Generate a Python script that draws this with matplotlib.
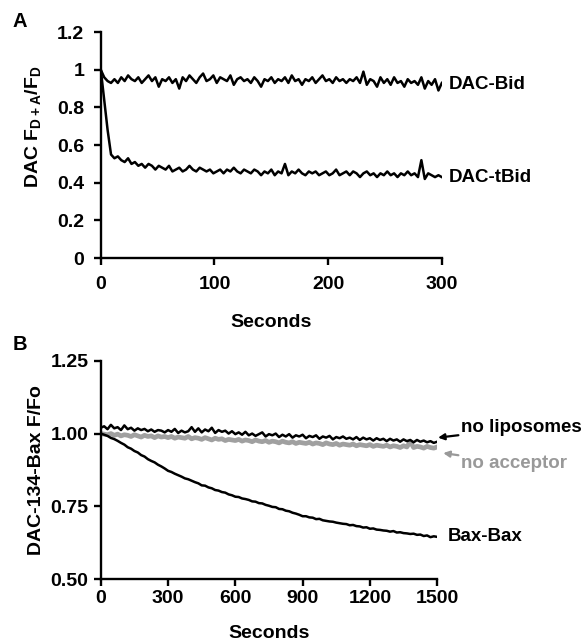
import numpy as np
import matplotlib
matplotlib.use("Agg")
import matplotlib.pyplot as plt

plt.rcParams['font.family'] = ['Liberation Sans', 'DejaVu Sans']
plt.rcParams['font.weight'] = 'bold'
plt.rcParams['mathtext.fontset'] = 'custom'
plt.rcParams['mathtext.rm'] = 'Liberation Sans:bold'
plt.rcParams['mathtext.bf'] = 'Liberation Sans:bold'
plt.rcParams['mathtext.default'] = 'bf'

# Panel A: DAC-Bid / DAC-tBid, one reading every 3 s from 0 to 300 s
bid = [1.00, 0.96, 0.94, 0.93, 0.95, 0.93, 0.96, 0.94, 0.97, 0.95, 0.94, 0.96, 0.93, 0.95, 0.97, 0.94,
       0.96, 0.91, 0.95, 0.94, 0.96, 0.93, 0.95, 0.90, 0.96, 0.94, 0.97, 0.95, 0.93, 0.96, 0.98, 0.94,
       0.95, 0.97, 0.93, 0.96, 0.95, 0.94, 0.97, 0.92, 0.95, 0.96, 0.94, 0.95, 0.93, 0.96, 0.94, 0.91,
       0.95, 0.94, 0.96, 0.93, 0.95, 0.94, 0.96, 0.93, 0.97, 0.94, 0.95, 0.92, 0.95, 0.94, 0.96, 0.93,
       0.95, 0.97, 0.94, 0.95, 0.93, 0.96, 0.94, 0.95, 0.93, 0.95, 0.94, 0.96, 0.93, 0.99, 0.92, 0.95,
       0.94, 0.91, 0.96, 0.93, 0.95, 0.92, 0.96, 0.93, 0.94, 0.91, 0.95, 0.93, 0.94, 0.92, 0.96, 0.90,
       0.94, 0.92, 0.95, 0.89, 0.93]
tbid = [1.00, 0.84, 0.68, 0.55, 0.53, 0.54, 0.52, 0.51, 0.53, 0.50, 0.51, 0.49, 0.50, 0.48, 0.50, 0.49,
        0.47, 0.49, 0.48, 0.47, 0.49, 0.46, 0.47, 0.48, 0.46, 0.47, 0.49, 0.47, 0.46, 0.48, 0.47, 0.46,
        0.47, 0.45, 0.46, 0.47, 0.45, 0.47, 0.46, 0.48, 0.46, 0.45, 0.47, 0.46, 0.45, 0.47, 0.46, 0.44,
        0.46, 0.45, 0.47, 0.44, 0.46, 0.45, 0.50, 0.44, 0.46, 0.45, 0.47, 0.45, 0.44, 0.46, 0.45, 0.46,
        0.44, 0.45, 0.46, 0.44, 0.45, 0.47, 0.44, 0.45, 0.46, 0.44, 0.46, 0.45, 0.43, 0.45, 0.46, 0.44,
        0.45, 0.43, 0.45, 0.44, 0.46, 0.44, 0.45, 0.43, 0.45, 0.44, 0.46, 0.44, 0.45, 0.43, 0.52, 0.42,
        0.45, 0.44, 0.43, 0.44, 0.43]

# Panel B: DAC-134-Bax, one reading every 15 s from 0 to 1500 s
bax_bax = [1.000, 0.996, 0.992, 0.985, 0.981, 0.975, 0.968, 0.962, 0.953, 0.948, 0.940, 0.935, 0.926,
           0.921, 0.912, 0.906, 0.901, 0.893, 0.887, 0.880, 0.872, 0.868, 0.862, 0.857, 0.852, 0.846,
           0.843, 0.838, 0.833, 0.829, 0.822, 0.821, 0.815, 0.812, 0.806, 0.804, 0.799, 0.797, 0.791,
           0.788, 0.783, 0.782, 0.777, 0.775, 0.772, 0.767, 0.766, 0.761, 0.760, 0.755, 0.752, 0.748,
           0.747, 0.741, 0.740, 0.735, 0.733, 0.728, 0.725, 0.721, 0.716, 0.716, 0.712, 0.711, 0.706,
           0.707, 0.702, 0.700, 0.698, 0.697, 0.694, 0.692, 0.690, 0.689, 0.685, 0.686, 0.682, 0.681,
           0.677, 0.678, 0.673, 0.674, 0.670, 0.669, 0.667, 0.666, 0.663, 0.665, 0.660, 0.661, 0.658,
           0.657, 0.655, 0.656, 0.652, 0.653, 0.648, 0.650, 0.644, 0.647, 0.645]
no_lipo = [1.020, 1.025, 1.015, 1.030, 1.018, 1.022, 1.012, 1.028, 1.015, 1.020, 1.010, 1.018, 1.012,
           1.016, 1.008, 1.014, 1.006, 1.012, 1.010, 1.004, 1.012, 1.006, 1.016, 1.002, 1.010, 1.004,
           1.008, 1.022, 1.006, 1.018, 1.004, 1.014, 1.008, 1.020, 1.002, 1.012, 1.006, 1.010, 1.000,
           1.008, 0.998, 1.004, 0.996, 1.006, 0.994, 1.000, 0.992, 0.998, 1.004, 0.990, 0.998, 0.994,
           1.000, 0.988, 0.996, 0.990, 0.998, 0.986, 0.994, 0.990, 0.996, 0.984, 0.992, 0.988, 0.994,
           0.982, 0.990, 0.986, 0.992, 0.980, 0.988, 0.984, 0.990, 0.982, 0.986, 0.980, 0.988, 0.978,
           0.986, 0.980, 0.984, 0.976, 0.984, 0.978, 0.982, 0.974, 0.982, 0.976, 0.980, 0.972, 0.980,
           0.974, 0.978, 0.970, 0.978, 0.972, 0.976, 0.970, 0.974, 0.968, 0.972]
no_acc = [1.000, 0.998, 0.996, 1.000, 0.994, 0.998, 0.992, 0.996, 0.994, 0.990, 0.996, 0.992, 0.988,
          0.994, 0.990, 0.992, 0.986, 0.992, 0.988, 0.990, 0.986, 0.990, 0.984, 0.988, 0.986, 0.984,
          0.990, 0.982, 0.986, 0.984, 0.980, 0.986, 0.982, 0.978, 0.984, 0.980, 0.982, 0.976, 0.980,
          0.978, 0.976, 0.980, 0.974, 0.978, 0.976, 0.972, 0.978, 0.974, 0.972, 0.976, 0.970, 0.974,
          0.972, 0.968, 0.974, 0.970, 0.968, 0.972, 0.966, 0.970, 0.968, 0.966, 0.970, 0.964, 0.968,
          0.966, 0.962, 0.968, 0.964, 0.962, 0.966, 0.960, 0.964, 0.962, 0.960, 0.964, 0.958, 0.962,
          0.960, 0.958, 0.962, 0.956, 0.960, 0.958, 0.956, 0.960, 0.954, 0.958, 0.956, 0.952, 0.958,
          0.954, 0.972, 0.952, 0.956, 0.954, 0.950, 0.956, 0.952, 0.950, 0.954]

t_a = np.linspace(0, 300, len(bid))
t_b = np.linspace(0, 1500, len(bax_bax))

fig = plt.figure(figsize=(5.86, 6.42), dpi=100)
axA = fig.add_axes([0.172, 0.598, 0.582, 0.352])
axB = fig.add_axes([0.172, 0.098, 0.574, 0.340])


def style(ax, xpad, ypad):
    for s in ['top', 'right']:
        ax.spines[s].set_visible(False)
    for s in ['left', 'bottom']:
        ax.spines[s].set_linewidth(1.7)
    ax.tick_params(width=1.7, length=5, labelsize=14, direction='out')
    ax.tick_params(axis='x', pad=xpad)
    ax.tick_params(axis='y', pad=ypad)
    for lab in ax.get_xticklabels() + ax.get_yticklabels():
        lab.set_fontweight('bold')


# --- A ---
axA.plot(t_a, bid, color='black', lw=1.8)
axA.plot(t_a, tbid, color='black', lw=1.8)
axA.set_xlim(0, 300)
axA.set_ylim(0, 1.2)
axA.set_xticks([0, 100, 200, 300])
axA.set_yticks([0, 0.2, 0.4, 0.6, 0.8, 1.0, 1.2])
axA.set_yticklabels(['0', '0.2', '0.4', '0.6', '0.8', '1', '1.2'])
style(axA, 8, 7)
axA.set_xlabel('Seconds', fontsize=14, fontweight='bold', va='center')
axA.xaxis.set_label_coords(0.5, -0.283)
axA.set_ylabel(r'DAC F$_{D+A}$/F$_{D}$', fontsize=14, fontweight='bold', va='center')
axA.yaxis.set_label_coords(-0.199, 0.58)
axA.text(306, 0.92, 'DAC-Bid', fontsize=13.5, fontweight='bold', va='center', clip_on=False)
axA.text(306, 0.43, 'DAC-tBid', fontsize=13.5, fontweight='bold', va='center', clip_on=False)
fig.text(0.022, 0.967, 'A', fontsize=14.5, fontweight='bold', ha='left', va='center')

# --- B ---
axB.plot(t_b, no_acc, color='#a0a0a0', lw=3.4)
axB.plot(t_b, no_lipo, color='black', lw=1.8)
axB.plot(t_b, bax_bax, color='black', lw=1.8)
axB.set_xlim(0, 1500)
axB.set_ylim(0.5, 1.25)
axB.set_xticks([0, 300, 600, 900, 1200, 1500])
axB.set_yticks([0.5, 0.75, 1.0, 1.25])
axB.set_yticklabels(['0.50', '0.75', '1.00', '1.25'])
style(axB, 3, 4)
axB.set_xlabel('Seconds', fontsize=14, fontweight='bold', va='center')
axB.xaxis.set_label_coords(0.5, -0.248)
axB.set_ylabel('DAC-134-Bax F/Fo', fontsize=14, fontweight='bold', va='center')
axB.yaxis.set_label_coords(-0.19, 0.5)
axB.annotate('no liposomes', xy=(1504, 0.986), xytext=(1607, 1.02), fontsize=13.5, fontweight='bold',
             va='center', annotation_clip=False,
             arrowprops=dict(arrowstyle='-|>', color='black', lw=1.6, mutation_scale=9,
                             shrinkA=0, shrinkB=0))
axB.annotate('no acceptor', xy=(1527, 0.933), xytext=(1607, 0.898), fontsize=13.5, fontweight='bold',
             color='#999999', va='center', annotation_clip=False,
             arrowprops=dict(arrowstyle='-|>', color='#999999', lw=1.6, mutation_scale=9,
                             shrinkA=0, shrinkB=0))
axB.text(1549, 0.645, 'Bax-Bax', fontsize=13.5, fontweight='bold', va='center', clip_on=False)
fig.text(0.022, 0.463, 'B', fontsize=14.5, fontweight='bold', ha='left', va='center')

fig.savefig('out.png', dpi=100)
